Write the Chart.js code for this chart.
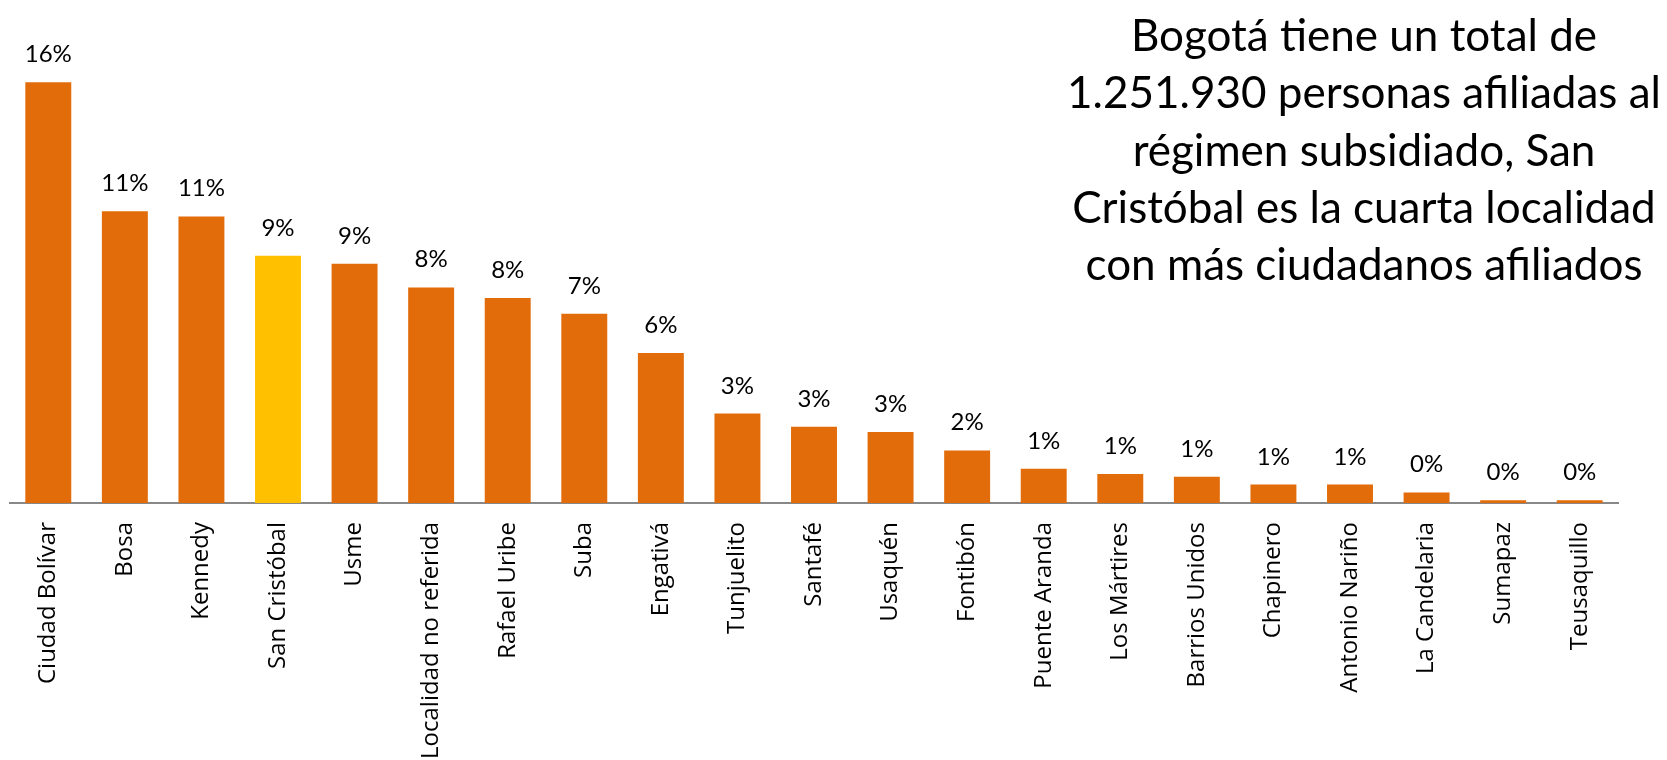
<!DOCTYPE html>
<html>
<head>
<meta charset="utf-8">
<script src="https://cdn.jsdelivr.net/npm/chart.js@4"></script>
<style>
  html, body { margin: 0; padding: 0; background: #fff; }
  #wrap { position: relative; width: 1667px; height: 760px; }
  #nota {
    position: absolute; left: 1034px; top: 6px; width: 660px;
    font-family: Lato, "Open Sans", sans-serif; font-size: 44px; line-height: 57.3px;
    text-align: center; color: #000;
  }
</style>
</head>
<body>
<div id="wrap">
  <canvas id="afiliadosChart" width="1667" height="760"></canvas>
  <div id="nota">Bogotá tiene un total de<br>1.251.930 personas afiliadas al<br>régimen subsidiado, San<br>Cristóbal es la cuarta localidad<br>con más ciudadanos afiliados</div>
</div>
<script>
// Localidades (orden del gráfico)
const localidades = ["Ciudad Bolívar", "Bosa", "Kennedy", "San Cristóbal", "Usme",
  "Localidad no referida", "Rafael Uribe", "Suba", "Engativá", "Tunjuelito", "Santafé",
  "Usaquén", "Fontibón", "Puente Aranda", "Los Mártires", "Barrios Unidos", "Chapinero",
  "Antonio Nariño", "La Candelaria", "Sumapaz", "Teusaquillo"];

// Porcentaje de afiliados al régimen subsidiado
const porcentajes = [16.0, 11.1, 10.9, 9.4, 9.1, 8.2, 7.8, 7.2, 5.7, 3.4, 2.9,
  2.7, 2.0, 1.3, 1.1, 1.0, 0.7, 0.7, 0.4, 0.1, 0.1];

const destacada = "San Cristóbal";

// Etiquetas de valor encima de cada barra
const etiquetasPlugin = {
  id: "etiquetas",
  afterDatasetsDraw(chart) {
    const ctx = chart.ctx;
    const meta = chart.getDatasetMeta(0);
    ctx.save();
    ctx.font = "24px Lato, 'Open Sans', sans-serif";
    ctx.fillStyle = "#000";
    ctx.textAlign = "center";
    ctx.textBaseline = "alphabetic";
    meta.data.forEach((bar, i) => {
      ctx.fillText(Math.round(porcentajes[i]) + "%", bar.x, bar.y - 20);
    });
    ctx.restore();
  }
};

function crearGrafico() {
  const ctx = document.getElementById("afiliadosChart").getContext("2d");
  new Chart(ctx, {
    type: "bar",
    data: {
      labels: localidades,
      datasets: [{
        data: porcentajes,
        backgroundColor: localidades.map(l => l === destacada ? "#FFC000" : "#E36C0A"),
        barPercentage: 0.6,
        categoryPercentage: 1.0
      }]
    },
    options: {
      responsive: false,
      animation: false,
      layout: { padding: { top: 56, left: 10, right: 49, bottom: 0 } },
      plugins: { legend: { display: false }, tooltip: { enabled: false } },
      scales: {
        y: { display: false, min: 0, max: 17 },
        x: {
          grid: { display: false, drawTicks: false },
          border: { display: true, color: "#888888", width: 2 },
          ticks: {
            autoSkip: false, minRotation: 90, maxRotation: 90, padding: 19,
            color: "#000", font: { family: "'Open Sans', sans-serif", size: 24 }
          },
          afterFit(scale) { scale.height = 257; }
        }
      }
    },
    plugins: [etiquetasPlugin]
  });
}

document.addEventListener("DOMContentLoaded", crearGrafico);
</script>
</body>
</html>
